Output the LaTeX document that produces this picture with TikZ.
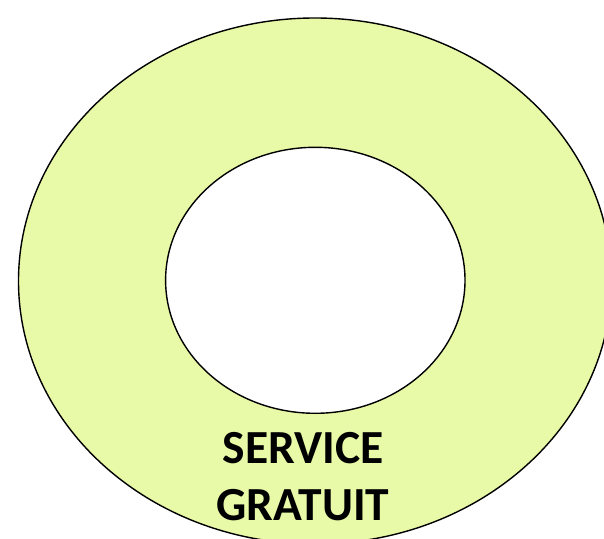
\documentclass[tikz,border=0pt]{standalone}
\usepackage{fontspec}
\setmainfont{Carlito}
\usepackage{xcolor}
\usepackage{tikz}
\usetikzlibrary{positioning}

\definecolor{ringgreen}{RGB}{232,249,167}

\begin{document}
\begin{tikzpicture}[
  x=1pt, y=1pt,
  ring/.style={draw=black, line width=1.4pt},
  label/.style={font=\fontsize{47.5}{56}\selectfont\bfseries, inner sep=0pt, anchor=base}
]
  \useasboundingbox (0,0) rectangle (604,538);
  \clip (0,0) rectangle (604,538);

  % rings
  \draw[ring, fill=ringgreen] (315,257) ellipse [x radius=296.5, y radius=263];
  \draw[ring, fill=white] (315.3,257.7) ellipse [x radius=149.7, y radius=133];

  % text
  \node[label] (serv) at (303,75) {SERVICE};
  \node[label] (grat) at (303,18) {GRATUIT};
\end{tikzpicture}
\end{document}
